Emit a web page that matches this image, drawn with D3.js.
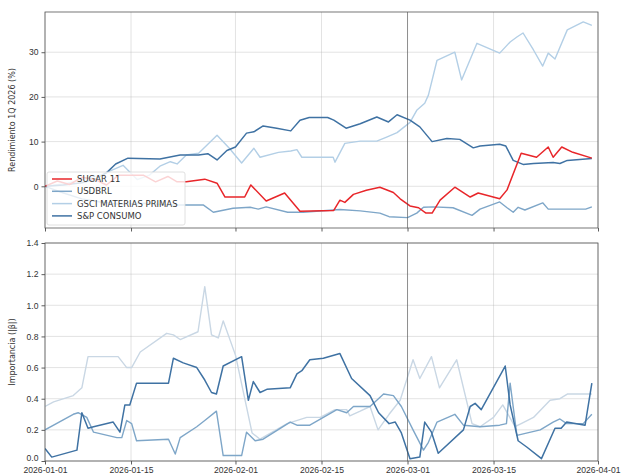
<!DOCTYPE html>
<html>
<head>
<meta charset="utf-8">
<script src="https://cdn.jsdelivr.net/npm/d3@7"></script>
<style>
  html, body { margin: 0; padding: 0; background: #fff; }
  svg { display: block; font-family: "DejaVu Sans", sans-serif; }
</style>
</head>
<body>
<svg id="chart" width="624" height="474"></svg>
<script>
// ---- Data (day offset from 2026-01-01, value) ----
const seriesNames = ["SUGAR 11", "USDBRL", "GSCI MATERIAS PRIMAS", "S&P CONSUMO"];
const xTickLabels = ["2026-01-01", "2026-01-15", "2026-02-01", "2026-02-15", "2026-03-01", "2026-03-15", "2026-04-01"];
const topTicks = [0, 10, 20, 30];
const bottomTicks = [0.0, 0.2, 0.4, 0.6, 0.8, 1.0, 1.2, 1.4];
const eventDate = "2026-03-01";

const sugarRet = [[0,0],[2,1.2],[4,0.4],[6,2],[8,1.6],[10,0.3],[12,2.5],[16,2.5],[18,1],[20,2.2],[21.5,1],[23,1],[26,1.6],[28,0.7],[29.3,-2.4],[32.5,-2.4],[33.5,0.3],[36,-3.3],[39,-1.5],[41.5,-5.6],[47,-5.4],[48,-3.1],[48.8,-3.6],[50.2,-1.8],[52.3,-0.9],[54.5,-0.2],[56.7,-1.4],[57.8,-2.8],[59.4,-4.4],[60.8,-4.8],[62,-6],[63,-6],[64.3,-3.1],[66.7,-0.2],[69.2,-2.4],[70.5,-1.5],[74,-2.8],[75.2,-0.8],[77.5,7.4],[80,6.5],[81.9,8.8],[82.7,6.5],[84.1,8.8],[85.9,7.6],[89,6.3]];
const usdbrlRet = [[0,0],[3,-1.5],[6,-2.8],[9,-3.5],[12,-4],[16,-3.8],[20,-4.2],[22.8,-4.2],[25.8,-4.2],[27.4,-5.8],[30.6,-4.9],[33.4,-4.7],[34.7,-5.1],[36,-4.6],[39.5,-5.8],[42,-5.8],[48,-5.2],[51.3,-5.5],[54.5,-6],[56,-6.8],[59,-7.0],[60.5,-6],[61.6,-4.7],[63.2,-4.6],[66.4,-4.8],[69.5,-6.5],[70.8,-5.1],[74,-3.5],[75.2,-4.8],[76.2,-5.8],[77,-4.7],[78.1,-5.3],[81,-3.7],[81.9,-5.1],[88,-5.1],[89,-4.6]];
const gsciRet = [[0,0],[3,0.5],[6,1.5],[9,2.5],[12.7,4.7],[15,1.5],[17,2.5],[18.7,4.5],[20.4,5.5],[21.5,5],[23,7],[25,7.4],[28,11.4],[30,8.5],[32,5.2],[34,8.5],[35,6.5],[38,7.6],[40,7.9],[41,8.2],[41.8,6.5],[46.9,6.5],[47.2,5.4],[48.8,9.6],[51.3,10.1],[54,10.1],[55.6,11.0],[57.3,12],[59.4,14.3],[60.5,17],[61.8,18.6],[62.4,20.4],[63.8,28.2],[66.7,30],[67.8,23.8],[70.3,32],[74,29.8],[75.7,32.3],[76.8,33.4],[77.8,34.3],[79.5,30.5],[81,26.9],[81.9,29.8],[83,28.5],[85,35],[87.6,36.8],[89,36]];
const spRet = [[0,0],[3,0.3],[6,0.8],[8,1.5],[10,3],[11.5,5],[13.5,6.3],[18.7,6.1],[22,7],[25,7],[26.5,7.3],[28,5.9],[29.6,8],[31,8.8],[32.8,11.9],[34,12.2],[35.5,13.5],[37.7,13],[40,12.4],[41.5,14.8],[43,15.4],[46,15.4],[47,14.8],[49,13],[51.3,14],[54,15.5],[55.9,14.4],[57.3,16],[59.4,14.8],[61,13.3],[63,10],[65.4,10.7],[67.5,10.5],[69.7,8.6],[70.8,9],[74,9.4],[75,9],[76.2,5.8],[77.8,4.9],[79.5,5.1],[82.7,5.3],[83.8,5.1],[85,5.8],[89,6.2]];

const usdbrlBeta = [[0,0.2],[4.6,0.3],[5.4,0.31],[6.8,0.28],[7.9,0.185],[11.7,0.15],[12.5,0.15],[13.3,0.26],[14.1,0.24],[14.9,0.13],[20.1,0.14],[21.2,0.045],[22,0.15],[24.7,0.22],[26,0.26],[27.9,0.32],[29,0.035],[32,0.035],[32.8,0.185],[34.2,0.13],[35.5,0.14],[39.9,0.25],[41,0.23],[43.1,0.23],[47.5,0.33],[49.1,0.31],[50.2,0.35],[52.9,0.35],[55.1,0.43],[56.7,0.42],[58,0.35],[59.9,0.2],[61.6,0.07],[62.4,0.12],[63.8,0.25],[66.7,0.3],[68.1,0.23],[70.8,0.22],[74,0.23],[75.1,0.24],[75.7,0.5],[76.8,0.165],[80.6,0.2],[82.7,0.25],[83.8,0.27],[84.9,0.24],[87.6,0.24],[89,0.3]];
const gsciBeta = [[0,0.35],[1.4,0.38],[4.6,0.42],[6,0.47],[7,0.67],[11.9,0.67],[13.3,0.6],[14.1,0.6],[15.5,0.7],[19.8,0.82],[20.9,0.81],[22,0.78],[24.9,0.83],[26,1.12],[27.1,0.81],[28.2,0.79],[29,0.9],[31,0.68],[33.7,0.18],[35,0.14],[39.4,0.24],[42.6,0.28],[44.8,0.28],[47.2,0.33],[49.1,0.33],[49.6,0.29],[51.3,0.32],[52.9,0.35],[54.2,0.2],[56,0.3],[57.8,0.39],[59.9,0.65],[61,0.53],[62.9,0.67],[64.2,0.47],[67,0.65],[69.5,0.24],[70.8,0.22],[73,0.28],[74.5,0.36],[76.5,0.22],[77.5,0.24],[79.5,0.28],[82.2,0.39],[83.8,0.4],[85,0.43],[89,0.43]];
const spBeta = [[0,0.08],[1.1,0.025],[5.2,0.07],[6,0.31],[7,0.21],[7.9,0.22],[11.1,0.25],[12.2,0.185],[13,0.36],[13.8,0.36],[14.9,0.5],[20.1,0.5],[20.9,0.66],[22.5,0.63],[24.7,0.6],[26,0.52],[27.1,0.44],[27.9,0.43],[29,0.61],[32,0.67],[33.1,0.39],[33.9,0.51],[35,0.44],[36.1,0.46],[39.9,0.47],[41,0.56],[41.8,0.58],[43.1,0.65],[45.3,0.66],[48,0.69],[49.9,0.53],[52.9,0.42],[54.3,0.31],[56,0.24],[57,0.25],[58,0.18],[59.4,0.015],[61,0.025],[61.8,0.25],[62.9,0.185],[64,0.05],[68.1,0.2],[69.2,0.35],[70,0.37],[71,0.33],[74.9,0.61],[75.7,0.36],[77,0.13],[78.4,0.09],[80.8,0.015],[83,0.21],[84,0.21],[84.9,0.25],[87.9,0.23],[89,0.5]];

// ---- Styles ----
const colors = { sugar: "#e8262a", usdbrl: "#7ea6c8", gsci: "#b3cfe6", sp: "#3f72a3" };
const L = 45, R = 598;
const top1 = 12, bot1 = 228, top2 = 243, bot2 = 461;

const start = new Date(2026, 0, 1);
const toDate = d => new Date(start.getTime() + d * 86400000);
const parse = d3.timeParse("%Y-%m-%d");

const svg = d3.select("#chart");

const x = d3.scaleTime().domain([parse("2026-01-01"), parse("2026-04-01")]).range([L, R]);
const y1 = d3.scaleLinear().domain([-9.33, 39.0]).range([bot1, top1]);
const y2 = d3.scaleLinear().domain([0, 1.4]).range([bot2, top2]);
const xTicks = xTickLabels.map(parse);

function panel(yScale, yTicks, yTop, yBot, fmt, showX, label) {
  const g = svg.append("g");
  g.append("g").selectAll("line").data(xTicks).join("line")
    .attr("x1", d => x(d)).attr("x2", d => x(d)).attr("y1", yTop).attr("y2", yBot)
    .attr("stroke", "#b0b0b0").attr("stroke-opacity", 0.45).attr("stroke-width", 0.8);
  g.append("g").selectAll("line").data(yTicks).join("line")
    .attr("x1", L).attr("x2", R).attr("y1", d => yScale(d)).attr("y2", d => yScale(d))
    .attr("stroke", "#b0b0b0").attr("stroke-opacity", 0.45).attr("stroke-width", 0.8);
  const ya = d3.axisLeft(yScale).tickValues(yTicks).tickFormat(fmt).tickSize(3.5).tickPadding(3);
  const yg = g.append("g").attr("transform", `translate(${L},0)`).call(ya);
  yg.select(".domain").remove();
  yg.selectAll("text").attr("font-size", 8.6).attr("fill", "#333");
  yg.selectAll("line").attr("stroke", "#333").attr("stroke-width", 0.8);
  if (showX) {
    // lift the lowest label a little so it clears the date label below it
    yg.selectAll(".tick").filter(d => d === 0).select("text").attr("dy", "-0.05em");
  }
  const xa = d3.axisBottom(x).tickValues(xTicks).tickFormat(showX ? d3.timeFormat("%Y-%m-%d") : "").tickSize(3.5).tickPadding(2);
  const xg = g.append("g").attr("transform", `translate(0,${yBot})`).call(xa);
  xg.select(".domain").remove();
  xg.selectAll("text").attr("font-size", 8.6).attr("fill", "#333");
  xg.selectAll("line").attr("stroke", "#333").attr("stroke-width", 0.8);
  g.append("text").attr("transform", `translate(15,${(yTop + yBot) / 2}) rotate(-90)`)
    .attr("text-anchor", "middle").attr("font-size", 8).attr("fill", "#333").text(label);
  return g;
}

const g1 = panel(y1, topTicks, top1, bot1, d3.format("d"), false, "Rendimiento 1Q 2026 (%)");
const g2 = panel(y2, bottomTicks, top2, bot2, d3.format(".1f"), true, "Importancia (|β|)");

function drawLine(g, data, yScale, color, width, opacity) {
  const line = d3.line().x(d => x(toDate(d[0]))).y(d => yScale(d[1]));
  g.append("path").datum(data).attr("d", line).attr("fill", "none")
    .attr("stroke", color).attr("stroke-width", width).attr("stroke-opacity", opacity)
    .attr("stroke-linejoin", "round");
}

const defs = svg.append("defs");
defs.append("clipPath").attr("id", "c1").append("rect").attr("x", L).attr("y", top1).attr("width", R - L).attr("height", bot1 - top1);
defs.append("clipPath").attr("id", "c2").append("rect").attr("x", L).attr("y", top2).attr("width", R - L).attr("height", bot2 - top2);
const p1 = g1.append("g").attr("clip-path", "url(#c1)");
const p2 = g2.append("g").attr("clip-path", "url(#c2)");

drawLine(p1, usdbrlRet, y1, colors.usdbrl, 1.4, 1);
drawLine(p1, gsciRet, y1, colors.gsci, 1.4, 1);
drawLine(p1, spRet, y1, colors.sp, 1.5, 1);
drawLine(p1, sugarRet, y1, colors.sugar, 1.5, 1);

drawLine(p2, gsciBeta, y2, "#c9d7e4", 1.4, 1);
drawLine(p2, usdbrlBeta, y2, colors.usdbrl, 1.4, 1);
drawLine(p2, spBeta, y2, colors.sp, 1.5, 1);

[[top1, bot1], [top2, bot2]].forEach(([a, b]) => {
  svg.append("line").attr("x1", x(parse(eventDate))).attr("x2", x(parse(eventDate)))
    .attr("y1", a).attr("y2", b).attr("stroke", "#444").attr("stroke-opacity", 0.6).attr("stroke-width", 0.9);
});

[[top1, bot1], [top2, bot2]].forEach(([a, b]) => {
  svg.append("rect").attr("x", L).attr("y", a).attr("width", R - L).attr("height", b - a)
    .attr("fill", "none").attr("stroke", "#555").attr("stroke-width", 0.8);
});

const lg = svg.append("g").attr("transform", "translate(47,172)");
lg.append("rect").attr("width", 138).attr("height", 53).attr("rx", 2)
  .attr("fill", "#fff").attr("fill-opacity", 0.8).attr("stroke", "#d8d8d8").attr("stroke-width", 0.8);
const legColors = [colors.sugar, colors.usdbrl, colors.gsci, colors.sp];
seriesNames.forEach((n, i) => {
  const yy = 7 + i * 12.3;
  lg.append("line").attr("x1", 5).attr("x2", 25).attr("y1", yy).attr("y2", yy)
    .attr("stroke", legColors[i]).attr("stroke-width", 1.5);
  lg.append("text").attr("x", 30).attr("y", yy + 3).attr("font-size", 8.5).attr("fill", "#333").text(n);
});
</script>
</body>
</html>
